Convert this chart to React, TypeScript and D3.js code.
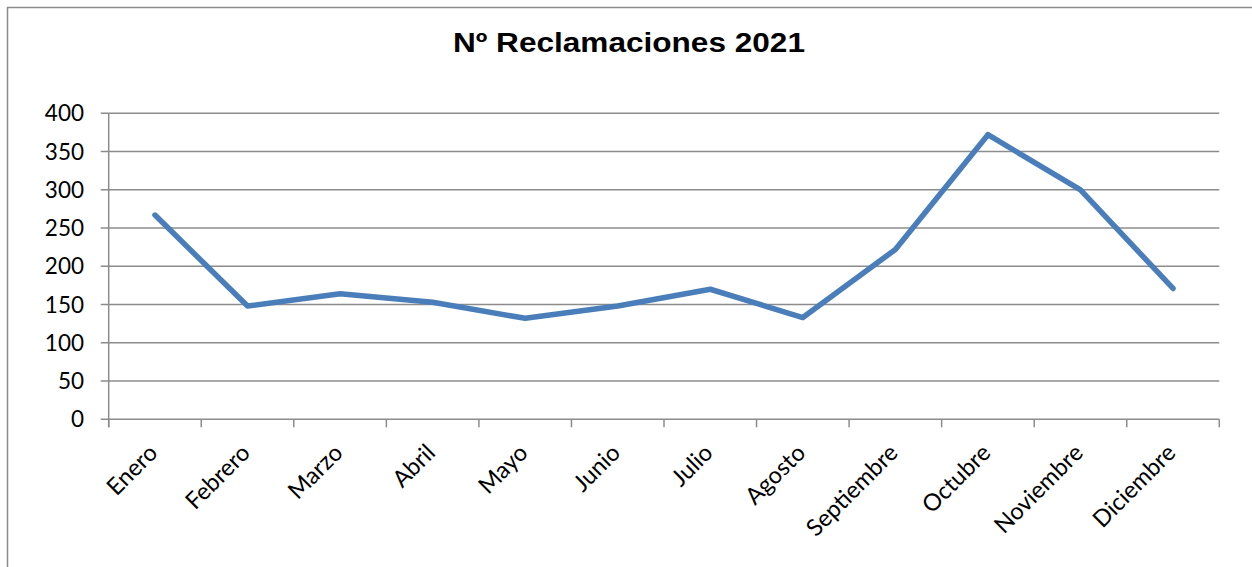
import React, { useEffect, useRef } from 'react';
import * as d3 from 'd3';

// datos
const meses = ['Enero', 'Febrero', 'Marzo', 'Abril', 'Mayo', 'Junio', 'Julio', 'Agosto',
    'Septiembre', 'Octubre', 'Noviembre', 'Diciembre'];
const reclamaciones = [267, 148, 164, 153, 132, 148, 170, 133, 222, 372, 300, 171];
const yTicks = [0, 50, 100, 150, 200, 250, 300, 350, 400];
const titulo = 'Nº Reclamaciones 2021';

const W = 1252, H = 567;

export default function App() {
    const ref = useRef<SVGSVGElement>(null);

    useEffect(() => {
        const svg = d3.select(ref.current);
        svg.selectAll('*').remove();

        const left = 108.7, right = 1219.3, top = 113.3, bottom = 419.3;

        const x = d3.scaleBand().domain(meses).range([left, right]);
        const y = d3.scaleLinear().domain([0, 400]).range([bottom, top]);

        // marco
        svg.append('rect')
            .attr('x', 7.5).attr('y', 7.5)
            .attr('width', W + 20).attr('height', H + 20)
            .attr('fill', 'white')
            .attr('stroke', '#8a8a8a').attr('stroke-width', 1.5);

        // título (la imagen original está algo estirada en horizontal)
        svg.append('text')
            .attr('x', 629).attr('y', 51.5)
            .attr('text-anchor', 'middle')
            .attr('font-family', '"Liberation Sans", Arial, sans-serif')
            .attr('font-weight', 'bold')
            .attr('font-size', 27)
            .attr('textLength', 352)
            .attr('lengthAdjust', 'spacingAndGlyphs')
            .text(titulo);

        // rejilla
        const grid = svg.append('g');
        grid.selectAll('line')
            .data(yTicks)
            .enter()
            .append('line')
            .attr('x1', left - 8).attr('x2', right)
            .attr('y1', d => y(d)).attr('y2', d => y(d))
            .attr('stroke', '#8c8c8c').attr('stroke-width', 1.5);

        // eje y
        svg.append('line')
            .attr('x1', left).attr('x2', left)
            .attr('y1', top).attr('y2', bottom + 8)
            .attr('stroke', '#8c8c8c').attr('stroke-width', 1.5);

        svg.append('g').selectAll('text')
            .data(yTicks)
            .enter()
            .append('text')
            .attr('x', 84)
            .attr('y', d => y(d))
            .attr('dy', '0.36em')
            .attr('text-anchor', 'end')
            .attr('font-family', 'Lato, "Open Sans", sans-serif')
            .attr('font-size', 22.5)
            .text(d => d);

        // ticks eje x
        const bordes = meses.map(m => x(m) as number).concat([right]);
        svg.append('g').selectAll('line')
            .data(bordes)
            .enter()
            .append('line')
            .attr('x1', d => d).attr('x2', d => d)
            .attr('y1', bottom).attr('y2', bottom + 8)
            .attr('stroke', '#8c8c8c').attr('stroke-width', 1.5);

        // etiquetas rotadas
        svg.append('g').selectAll('text')
            .data(meses)
            .enter()
            .append('text')
            .attr('transform', d => `translate(${(x(d) as number) + x.bandwidth() / 2 + 4},${bottom + 35}) rotate(-45)`)
            .attr('text-anchor', 'end')
            .attr('font-family', 'Lato, "Open Sans", sans-serif')
            .attr('font-size', 23.5)
            .text(d => d);

        // serie
        const line = d3.line<number>()
            .x((d, i) => (x(meses[i]) as number) + x.bandwidth() / 2)
            .y(d => y(d));

        svg.append('path')
            .datum(reclamaciones)
            .attr('d', line)
            .attr('fill', 'none')
            .attr('stroke', '#4a7ebb')
            .attr('stroke-width', 5.5)
            .attr('stroke-linejoin', 'round')
            .attr('stroke-linecap', 'round');
    }, []);

    return (
        <svg ref={ref} width={W} height={H}
             style={{ position: 'absolute', left: 0, top: 0, display: 'block' }} />
    );
}
